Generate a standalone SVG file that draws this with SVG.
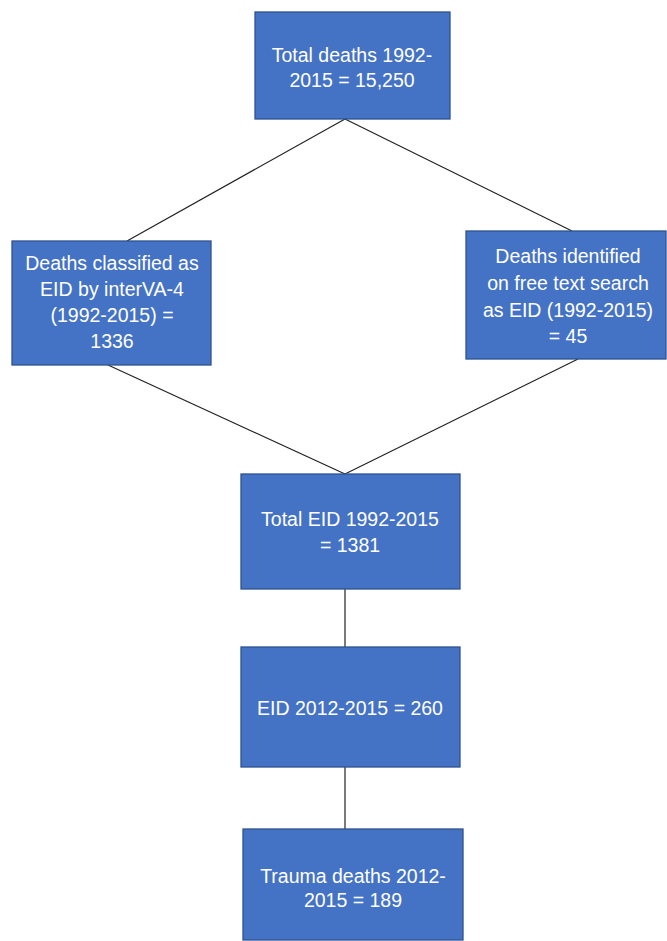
<svg xmlns="http://www.w3.org/2000/svg" width="667" height="941" viewBox="0 0 667 941">
<style>
.box{fill:#4472C4;stroke:#2F528F;stroke-width:1.3}
.t{font-family:"Liberation Sans",Arial,sans-serif;font-size:19.5px;fill:#FFFFFF;text-anchor:middle}
.c{stroke:#222222;stroke-width:1.2;fill:none}
</style>
<rect width="667" height="941" fill="#FFFFFF"/>
<g id="connectors">
<line class="c" x1="345" y1="119" x2="127" y2="241"/>
<line class="c" x1="345" y1="119" x2="572" y2="231"/>
<line class="c" x1="108" y1="365" x2="345" y2="474"/>
<line class="c" x1="578" y1="359" x2="345" y2="474"/>
<line class="c" x1="345" y1="589" x2="345" y2="647"/>
<line class="c" x1="345" y1="767" x2="345" y2="829"/>
</g>
<g id="n1">
<rect class="box" x="255" y="12" width="195" height="107"/>
<text class="t" x="352" y="62">Total deaths 1992-</text>
<text class="t" x="352" y="87">2015 = 15,250</text>
</g>
<g id="n2">
<rect class="box" x="12" y="241" width="199" height="124"/>
<text class="t" x="112" y="270">Deaths classified as</text>
<text class="t" x="112" y="296">EID by interVA-4</text>
<text class="t" x="112" y="322">(1992-2015) =</text>
<text class="t" x="112" y="348">1336</text>
</g>
<g id="n3">
<rect class="box" x="466" y="231" width="200" height="128"/>
<text class="t" x="568" y="263">Deaths identified</text>
<text class="t" x="568" y="290">on free text search</text>
<text class="t" x="568" y="317">as EID (1992-2015)</text>
<text class="t" x="568" y="343">= 45</text>
</g>
<g id="n4">
<rect class="box" x="241" y="474" width="219" height="115"/>
<text class="t" x="350" y="526">Total EID 1992-2015</text>
<text class="t" x="350" y="552">= 1381</text>
</g>
<g id="n5">
<rect class="box" x="241" y="647" width="219" height="120"/>
<text class="t" x="350" y="715">EID 2012-2015 = 260</text>
</g>
<g id="n6">
<rect class="box" x="243" y="829" width="220" height="111"/>
<text class="t" x="353" y="883">Trauma deaths 2012-</text>
<text class="t" x="353" y="907">2015 = 189</text>
</g>
</svg>
